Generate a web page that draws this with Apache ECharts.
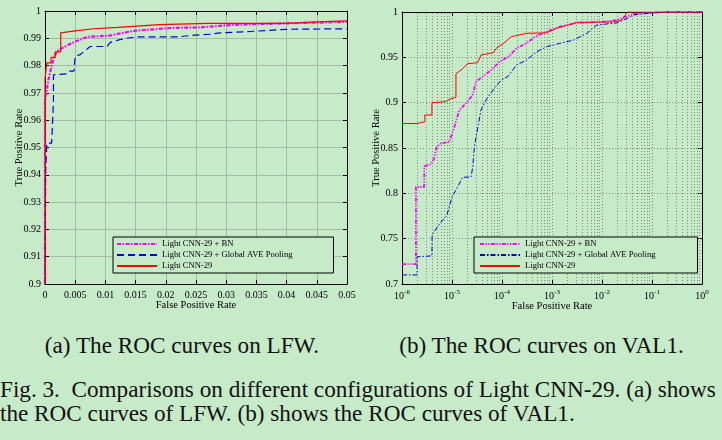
<!DOCTYPE html>
<html>
<head>
<meta charset="utf-8">
<script src="https://cdn.jsdelivr.net/npm/echarts@6/dist/echarts.min.js"></script>
<style>
  html, body { margin: 0; padding: 0; background: #c7eac8; width: 722px; height: 440px; overflow: hidden; }
  #a { position: absolute; left: 0; top: 0; width: 361px; height: 320px; }
  #b { position: absolute; left: 361px; top: 0; width: 361px; height: 320px; }
  .cap { position: absolute; font-family: 'Liberation Serif', 'Times New Roman', Times, serif; font-size: 23.2px; color: #111; white-space: pre; line-height: 24px; }
</style>
</head>
<body>
<div id="a"></div>
<div id="b"></div>
<div class="cap" id="capA" style="left:0;width:364px;top:333px;text-align:center;">(a) The ROC curves on LFW.</div>
<div class="cap" id="capB" style="left:361px;width:361px;top:333px;text-align:center;">(b) The ROC curves on VAL1.</div>
<div class="cap" id="fig1" style="left:0;top:377px;">Fig. 3.  Comparisons on different configurations of Light CNN-29. (a) shows</div>
<div class="cap" id="fig2" style="left:0;top:401px;">the ROC curves of LFW. (b) shows the ROC curves of VAL1.</div>
<script>
// ---------- DATA ----------
const SERIES_NAMES = ['Light CNN-29 + BN', 'Light CNN-29 + Global AVE Pooling', 'Light CNN-29'];

// (a) LFW
const LFW_BN_FPR = [0, 0, 0.0003, 0.0005, 0.0008, 0.0011, 0.0015, 0.0019, 0.0025, 0.0035, 0.005, 0.007, 0.0107, 0.0146, 0.021, 0.0257, 0.031, 0.04, 0.05];
const LFW_BN_TPR = [0.9, 0.968, 0.971, 0.974, 0.977, 0.980, 0.983, 0.985, 0.986, 0.9872, 0.9888, 0.9905, 0.991, 0.9927, 0.9938, 0.994, 0.9949, 0.9955, 0.996];
const LFW_GAP_FPR = [0, 0.0001, 0.0001, 0.0003, 0.0003, 0.0011, 0.0014, 0.0014, 0.0036, 0.004, 0.0048, 0.005, 0.0058, 0.0075, 0.0103, 0.0108, 0.0124, 0.0135, 0.015, 0.022, 0.024, 0.0275, 0.029, 0.034, 0.04, 0.05];
const LFW_GAP_TPR = [0.9, 0.9, 0.9405, 0.9405, 0.9516, 0.9516, 0.967, 0.9766, 0.977, 0.978, 0.978, 0.9835, 0.984, 0.987, 0.987, 0.9885, 0.9895, 0.990, 0.9905, 0.9905, 0.991, 0.9915, 0.992, 0.9925, 0.9933, 0.9935];
const LFW_BASE_FPR = [0, 0, 0.00028, 0.00028, 0.001, 0.001, 0.0017, 0.0017, 0.0026, 0.0026, 0.005, 0.008, 0.012, 0.019, 0.027, 0.04, 0.045, 0.05];
const LFW_BASE_TPR = [0.9, 0.975, 0.975, 0.981, 0.981, 0.983, 0.983, 0.985, 0.985, 0.992, 0.9927, 0.9935, 0.994, 0.995, 0.9955, 0.9955, 0.996, 0.9964];

// (b) VAL1
const VAL_BN_FPR = [1e-6, 1.9e-6, 1.9e-6, 2.77e-6, 2.8e-6, 3.8e-6, 4.4e-6, 4.9e-6, 6e-6, 8.9e-6, 1.12e-5, 1.41e-5, 1.9e-5, 2.6e-5, 3.0e-5, 4.1e-5, 6.1e-5, 8.9e-5, 1.4e-4, 1.94e-4, 3.1e-4, 4.6e-4, 7.8e-4, 1.44e-3, 3.1e-3, 9.1e-3, 0.02, 0.027, 0.043, 0.093, 0.2, 1];
const VAL_BN_TPR = [0.722, 0.722, 0.807, 0.807, 0.830, 0.832, 0.8386, 0.851, 0.855, 0.857, 0.8735, 0.892, 0.8993, 0.9085, 0.923, 0.9287, 0.936, 0.945, 0.9515, 0.96, 0.9655, 0.9728, 0.978, 0.9838, 0.988, 0.989, 0.991, 0.994, 0.9978, 0.999, 1, 1];
const VAL_GAP_FPR = [1e-6, 2e-6, 2e-6, 3.97e-6, 4e-6, 5.1e-6, 6.5e-6, 7.8e-6, 8.8e-6, 1e-5, 1.2e-5, 1.63e-5, 2.4e-5, 2.6e-5, 2.8e-5, 3.3e-5, 3.8e-5, 4.8e-5, 6.6e-5, 9.7e-5, 1.32e-4, 1.94e-4, 3.1e-4, 4.9e-4, 7.8e-4, 1.44e-3, 2.7e-3, 5e-3, 7.9e-3, 0.02, 0.032, 0.043, 0.093, 0.2, 1];
const VAL_GAP_TPR = [0.71, 0.71, 0.730, 0.731, 0.754, 0.763, 0.7706, 0.775, 0.785, 0.796, 0.8037, 0.8177, 0.818, 0.829, 0.851, 0.8735, 0.892, 0.903, 0.914, 0.925, 0.929, 0.9415, 0.947, 0.956, 0.9617, 0.9655, 0.969, 0.9765, 0.9857, 0.988, 0.993, 0.9967, 0.999, 1, 1];
const VAL_BASE_FPR = [1e-6, 2e-6, 2e-6, 2.86e-6, 2.86e-6, 3.97e-6, 3.97e-6, 7.3e-6, 9.1e-6, 1.2e-5, 1.2e-5, 1.52e-5, 2.06e-5, 3.27e-5, 3.8e-5, 6.6e-5, 7.7e-5, 1.05e-4, 1.54e-4, 3.1e-4, 7.8e-4, 1.24e-3, 1.97e-3, 3.1e-3, 0.017, 0.025, 0.032, 1];
const VAL_BASE_TPR = [0.877, 0.877, 0.879, 0.879, 0.8864, 0.8864, 0.900, 0.901, 0.904, 0.906, 0.932, 0.936, 0.943, 0.944, 0.9526, 0.955, 0.96, 0.965, 0.9728, 0.9765, 0.977, 0.982, 0.985, 0.9886, 0.989, 0.991, 1.0, 1.0];

// axis / tick settings
const LFW_X_RANGE = [0, 0.05], LFW_X_STEP = 0.005;
const LFW_Y_RANGE = [0.9, 1], LFW_Y_STEP = 0.01;
const VAL_X_RANGE = [1e-6, 1];
const VAL_Y_RANGE = [0.7, 1], VAL_Y_STEP = 0.05;
const DECADES = [-6, -5, -4, -3, -2, -1];
const MINOR_MULT = [2, 3, 4, 5, 6, 7, 8, 9];

// ---------- HELPERS ----------
const FONT = "'Liberation Serif', 'Times New Roman', Times, serif";
const BG = '#c7eac8';
const zip = (xs, ys) => xs.map((x, i) => [x, ys[i]]);
const clean = v => String(parseFloat(Number(v).toFixed(4)));

function frameAxes(base, type, extra) {
  return [
    Object.assign({
      type: type,
      nameMoveOverlap: false,
      axisLine: { show: true, onZero: false, lineStyle: { color: '#000', width: 1 } },
      axisTick: { show: true, inside: true, length: 4, lineStyle: { color: '#000' } },
      axisLabel: { color: '#000', fontFamily: FONT, fontSize: 10, margin: 6 },
      nameTextStyle: { color: '#000', fontFamily: FONT, fontSize: 10.5 }
    }, base),
    Object.assign({
      type: type,
      axisLine: { show: true, onZero: false, lineStyle: { color: '#000', width: 1 } },
      axisTick: { show: true, inside: true, length: 4, lineStyle: { color: '#000' } },
      axisLabel: { show: false },
      splitLine: { show: false }
    }, extra)
  ];
}

const legendCommon = {
  orient: 'vertical',
  top: 237,
  z: 20,
  itemWidth: 40,
  itemHeight: 9,
  itemGap: 1,
  itemTextGap: 4,
  borderColor: '#000',
  borderWidth: 1,
  borderRadius: 0,
  backgroundColor: BG,
  selectedMode: false,
  itemStyle: { opacity: 0 },
  textStyle: { color: '#000', fontFamily: FONT, fontSize: 8.6, lineHeight: 10 },
  data: SERIES_NAMES
};

// ---------- CHART (a) ----------
const chartA = echarts.init(document.getElementById('a'), null, { renderer: 'canvas' });
const gridA = { left: 45, top: 11, width: 302, height: 273, containLabel: false, outerBoundsMode: 'none' };
const xA = frameAxes({
  min: LFW_X_RANGE[0], max: LFW_X_RANGE[1], interval: LFW_X_STEP, position: 'bottom',
  name: 'False Positive Rate', nameLocation: 'middle', nameGap: 16,
  axisLabel: { color: '#000', fontFamily: FONT, fontSize: 10, margin: 6, formatter: clean },
  splitLine: { show: true, lineStyle: { color: '#a3bba3', width: 1 } }
}, 'value', { min: LFW_X_RANGE[0], max: LFW_X_RANGE[1], interval: LFW_X_STEP, position: 'top' });
const yA = frameAxes({
  min: LFW_Y_RANGE[0], max: LFW_Y_RANGE[1], interval: LFW_Y_STEP, position: 'left',
  name: 'True Positive Rate', nameLocation: 'middle', nameGap: 20,
  axisLabel: { color: '#000', fontFamily: FONT, fontSize: 10, margin: 4, formatter: clean },
  splitLine: { show: true, lineStyle: { color: '#a3bba3', width: 1 } }
}, 'value', { min: LFW_Y_RANGE[0], max: LFW_Y_RANGE[1], interval: LFW_Y_STEP, position: 'right' });

chartA.setOption({
  animation: false,
  backgroundColor: 'transparent',
  grid: gridA,
  xAxis: xA,
  yAxis: yA,
  legend: Object.assign({ left: 113, padding: [2, 41, 2, 3] }, legendCommon),
  series: [
    { name: SERIES_NAMES[0], type: 'line', showSymbol: false, symbol: 'none', z: 3,
      data: zip(LFW_BN_FPR, LFW_BN_TPR),
      lineStyle: { color: '#ff00ff', width: 2.2, type: [4, 1.5, 1.5, 1.5] } },
    { name: SERIES_NAMES[1], type: 'line', showSymbol: false, symbol: 'none', z: 4,
      data: zip(LFW_GAP_FPR, LFW_GAP_TPR),
      lineStyle: { color: '#0000ee', width: 1.2, type: [7, 4] } },
    { name: SERIES_NAMES[2], type: 'line', showSymbol: false, symbol: 'none', z: 5,
      data: zip(LFW_BASE_FPR, LFW_BASE_TPR),
      lineStyle: { color: '#ff0000', width: 1.2, type: 'solid' } }
  ]
});

// ---------- CHART (b) ----------
const chartB = echarts.init(document.getElementById('b'), null, { renderer: 'canvas' });
const gridB = { left: 41, top: 12, width: 300, height: 272, containLabel: false, outerBoundsMode: 'none' };
const dotted = { color: '#7a917a', width: 1, type: [1, 2] };
const logLabel = v => '{b|10}{s|' + Math.round(Math.log10(v)) + '}';
const xB = frameAxes({
  min: VAL_X_RANGE[0], max: VAL_X_RANGE[1], logBase: 10, position: 'bottom',
  name: 'False Positive Rate', nameLocation: 'middle', nameGap: 17,
  axisLabel: {
    color: '#000', fontFamily: FONT, margin: 5, formatter: logLabel,
    rich: {
      b: { fontFamily: FONT, fontSize: 10, color: '#000', lineHeight: 14 },
      s: { fontFamily: FONT, fontSize: 7, color: '#000', lineHeight: 8, verticalAlign: 'top' }
    }
  },
  splitLine: { show: true, lineStyle: dotted }
}, 'log', { min: VAL_X_RANGE[0], max: VAL_X_RANGE[1], logBase: 10, position: 'top' });
const yB = frameAxes({
  min: VAL_Y_RANGE[0], max: VAL_Y_RANGE[1], interval: VAL_Y_STEP, position: 'left',
  name: 'True Positive Rate', nameLocation: 'middle', nameGap: 20,
  axisLabel: { color: '#000', fontFamily: FONT, fontSize: 10, margin: 4, formatter: clean },
  splitLine: { show: true, lineStyle: dotted }
}, 'value', { min: VAL_Y_RANGE[0], max: VAL_Y_RANGE[1], interval: VAL_Y_STEP, position: 'right' });

const minorLines = [];
DECADES.forEach(d => MINOR_MULT.forEach(m => minorLines.push({ xAxis: m * Math.pow(10, d) })));

chartB.setOption({
  animation: false,
  backgroundColor: 'transparent',
  grid: gridB,
  xAxis: xB,
  yAxis: yB,
  legend: Object.assign({ left: 113, padding: [2, 42, 2, 5] }, legendCommon),
  series: [
    { name: 'minor-grid', type: 'line', data: [], z: 1, silent: true,
      markLine: { silent: true, z: 1, precision: 12, symbol: ['none', 'none'], label: { show: false },
        lineStyle: dotted, animation: false, data: minorLines } },
    { name: SERIES_NAMES[0], type: 'line', showSymbol: false, symbol: 'none', z: 3,
      data: zip(VAL_BN_FPR, VAL_BN_TPR),
      lineStyle: { color: '#ff00ff', width: 1.8, type: [4, 1.5, 1.2, 1.5, 1.2, 1.5] } },
    { name: SERIES_NAMES[1], type: 'line', showSymbol: false, symbol: 'none', z: 4,
      data: zip(VAL_GAP_FPR, VAL_GAP_TPR),
      lineStyle: { color: '#0000dd', width: 1, type: [5, 2, 1.5, 2] } },
    { name: SERIES_NAMES[2], type: 'line', showSymbol: false, symbol: 'none', z: 5,
      data: zip(VAL_BASE_FPR, VAL_BASE_TPR),
      lineStyle: { color: '#ff0000', width: 1, type: 'solid' } }
  ]
});
</script>
</body>
</html>
